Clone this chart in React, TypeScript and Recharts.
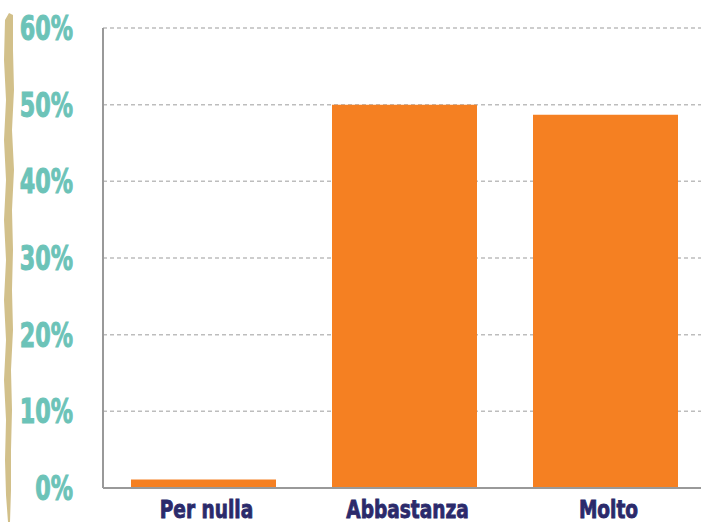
import { Bar, BarChart, CartesianGrid, Customized, XAxis, YAxis } from 'recharts'

const categories = ['Per nulla', 'Abbastanza', 'Molto']
const values = [1.1, 50.0, 48.7]
const yTicks = [0, 10, 20, 30, 40, 50, 60]

const data = categories.map((name, i) => ({ name, value: values[i] }))

const FONT = '"DejaVu Sans Condensed", "DejaVu Sans", sans-serif'

// the original uses a heavy condensed face, so squeeze the text horizontally
const YTick = (props: any) => {
  const { x, y, payload } = props
  return (
    <g transform={`translate(${x},${y + 12}) scale(0.75,1)`}>
      <text
        textAnchor="end"
        fill="#6cc3b8"
        stroke="#6cc3b8"
        strokeWidth={1}
        fontFamily={FONT}
        fontWeight="bold"
        fontSize={33}
      >
        {payload.value}%
      </text>
    </g>
  )
}

const XTick = (props: any) => {
  const { x, y, payload } = props
  return (
    <g transform={`translate(${x + 3},${y + 22}) scale(0.86,1)`}>
      <text
        textAnchor="middle"
        fill="#2b2a6b"
        stroke="#2b2a6b"
        strokeWidth={0.8}
        fontFamily={FONT}
        fontWeight="bold"
        fontSize={24}
      >
        {payload.value}
      </text>
    </g>
  )
}

// brush-like decorative stroke on the left edge
const Brush = () => (
  <path
    d="M5 20 L9 13 L13 15 L13 50 L14 90 L12 130 L14 170 L12 210 L13 250 L12 290 L13 330 L11 370 L12 410 L11 450 L11 490 L10 522 L8 522 L6 495 L5 460 L6 420 L4 380 L6 340 L4 300 L6 260 L4 220 L6 180 L4 140 L6 100 L4 60 Z"
    fill="#d2c08a"
  />
)

export default function App() {
  return (
    <div
      style={{
        position: 'absolute',
        top: 0,
        left: 0,
        width: 701,
        height: 526,
        overflow: 'hidden',
        background: '#fff',
      }}
    >
      <BarChart
        width={710}
        height={526}
        data={data}
        margin={{ top: 28, right: 4, bottom: 0, left: 0 }}
        barCategoryGap={28}
      >
        <CartesianGrid vertical={false} stroke="#bdbdbd" strokeDasharray="4 3" strokeWidth={1.5} />
        <YAxis
          width={103}
          domain={[0, 60]}
          ticks={yTicks}
          interval={0}
          tickLine={false}
          tickMargin={24}
          axisLine={{ stroke: '#999', strokeWidth: 2 }}
          tick={<YTick />}
        />
        <XAxis
          dataKey="name"
          height={38}
          tickLine={false}
          axisLine={{ stroke: '#999', strokeWidth: 2 }}
          tick={<XTick />}
        />
        <Bar dataKey="value" fill="#f58022" isAnimationActive={false} />
        <Customized component={Brush} />
      </BarChart>
    </div>
  )
}
